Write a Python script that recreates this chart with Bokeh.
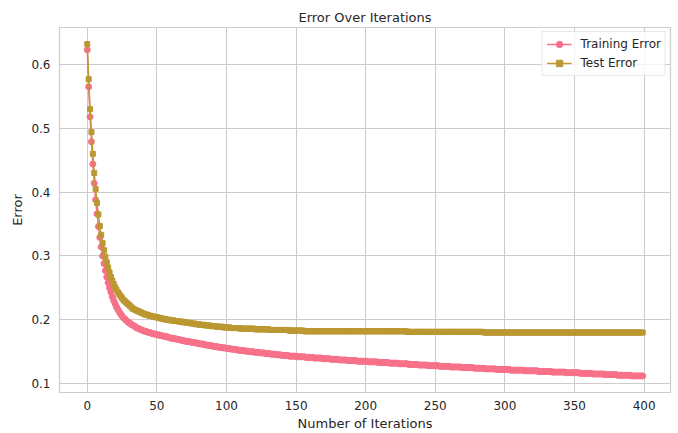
from bokeh.plotting import figure
from bokeh.models import Range1d, FixedTicker, Legend, LegendItem
from bokeh.embed import file_html
from bokeh.resources import INLINE

iterations = list(range(400))

training_error = [
    .623, .565, .518, .479, .444, .414, .388, .366, .346, .329, .314, .300, .288, .277, .267, .258, .250, .243, .236, .230, .225,
    .220, .216, .212, .209, .206, .203, .201, .199, .197, .195,
    .194, .192, .191, .190, .188, .187, .186, .185, .184, .183,
    .182, .182, .181, .180, .180, .179, .178, .178, .177, .177,
    .176, .176, .175, .175, .174, .174, .173, .173, .172, .171,
    .171, .171, .170, .170, .169, .169, .168, .168, .167, .167,
    .166, .166, .166, .165, .165, .164, .164, .164, .163, .163,
    .162, .162, .162, .161, .161, .160, .160, .160, .159, .159,
    .158, .158, .158, .157, .157, .157, .156, .156, .156, .155,
    .155, .155, .154, .154, .154, .153, .153, .153, .152, .152,
    .152, .152, .151, .151, .151, .150, .150, .150, .150, .149,
    .149, .149, .149, .148, .148, .148, .148, .147, .147, .147,
    .147, .146, .146, .146, .146, .145, .145, .145, .145, .144,
    .144, .144, .144, .144, .143, .143, .143, .143, .143, .143,
    .142, .142, .142, .142, .142, .142, .141, .141, .141, .141,
    .141, .141, .140, .140, .140, .140, .140, .140, .139, .139,
    .139, .139, .139, .139, .138, .138, .138, .138, .138, .138,
    .137, .137, .137, .137, .137, .137, .136, .136, .136, .136,
    .136, .136, .136, .135, .135, .135, .135, .135, .135, .135,
    .135, .134, .134, .134, .134, .134, .134, .134, .133, .133,
    .133, .133, .133, .133, .133, .133, .132, .132, .132, .132,
    .132, .132, .132, .131, .131, .131, .131, .131, .131, .131,
    .130, .130, .130, .130, .130, .130, .130, .129, .129, .129,
    .129, .129, .129, .129, .128, .128, .128, .128, .128, .128,
    .128, .128, .127, .127, .127, .127, .127, .127, .127, .127,
    .126, .126, .126, .126, .126, .126, .126, .126, .125, .125,
    .125, .125, .125, .125, .125, .125, .125, .124, .124, .124,
    .124, .124, .124, .124, .124, .123, .123, .123, .123, .123,
    .123, .123, .123, .122, .122, .122, .122, .122, .122, .122,
    .122, .122, .122, .121, .121, .121, .121, .121, .121, .121,
    .121, .121, .121, .120, .120, .120, .120, .120, .120, .120,
    .120, .120, .120, .119, .119, .119, .119, .119, .119, .119,
    .119, .119, .119, .118, .118, .118, .118, .118, .118, .118,
    .118, .118, .118, .117, .117, .117, .117, .117, .117, .117,
    .117, .117, .117, .116, .116, .116, .116, .116, .116, .116,
    .116, .116, .115, .115, .115, .115, .115, .115, .115, .115,
    .115, .114, .114, .114, .114, .114, .114, .114, .114, .114,
    .113, .113, .113, .113, .113, .113, .113, .113, .113, .113,
    .112, .112, .112, .112, .112, .112, .112, .112, .112,
]

test_error = [
    .632, .577, .530, .494, .460, .430, .405, .383, .365, .347, .333, .320, .309, .299, .290, .282, .274, .267, .261, .256, .251,
    .247, .243, .240, .237, .234, .231, .229, .227, .225, .223,
    .221, .219, .217, .216, .215, .214, .213, .212, .211, .210,
    .209, .208, .208, .207, .206, .206, .205, .205, .204, .204,
    .203, .203, .202, .202, .201, .201, .200, .200, .200, .199,
    .199, .199, .198, .198, .198, .197, .197, .197, .196, .196,
    .196, .195, .195, .195, .194, .194, .194, .193, .193, .193,
    .192, .192, .192, .192, .191, .191, .191, .191, .190, .190,
    .190, .190, .189, .189, .189, .189, .189, .188, .188, .188,
    .188, .188, .187, .187, .187, .187, .187, .187, .187, .186,
    .186, .186, .186, .186, .186, .186, .186, .186, .186, .186,
    .185, .185, .185, .185, .185, .185, .185, .185, .185, .185,
    .184, .184, .184, .184, .184, .184, .184, .184, .184, .184,
    .184, .184, .184, .184, .183, .183, .183, .183, .183, .183,
    .183, .183, .183, .183, .183, .182, .182, .182, .182, .182,
    .182, .182, .182, .182, .182, .182, .182, .182, .182, .182,
    .182, .182, .182, .182, .182, .182, .182, .182, .182, .182,
    .182, .182, .182, .182, .182, .182, .182, .182, .182, .182,
    .182, .182, .182, .182, .182, .182, .182, .182, .182, .182,
    .182, .182, .182, .182, .182, .182, .182, .182, .182, .182,
    .182, .182, .182, .182, .182, .182, .182, .182, .182, .182,
    .182, .182, .182, .182, .182, .182, .182, .182, .182, .181,
    .181, .181, .181, .181, .181, .181, .181, .181, .181, .181,
    .181, .181, .181, .181, .181, .181, .181, .181, .181, .181,
    .181, .181, .181, .181, .181, .181, .181, .181, .181, .181,
    .181, .181, .181, .181, .181, .181, .181, .181, .181, .181,
    .181, .181, .181, .181, .181, .181, .181, .181, .181, .181,
    .181, .181, .181, .181, .180, .180, .180, .180, .180, .180,
    .180, .180, .180, .180, .180, .180, .180, .180, .180, .180,
    .180, .180, .180, .180, .180, .180, .180, .180, .180, .180,
    .180, .180, .180, .180, .180, .180, .180, .180, .180, .180,
    .180, .180, .180, .180, .180, .180, .180, .180, .180, .180,
    .180, .180, .180, .180, .180, .180, .180, .180, .180, .180,
    .180, .180, .180, .180, .180, .180, .180, .180, .180, .180,
    .180, .180, .180, .180, .180, .180, .180, .180, .180, .180,
    .180, .180, .180, .180, .180, .180, .180, .180, .180, .180,
    .180, .180, .180, .180, .180, .180, .180, .180, .180, .180,
    .180, .180, .180, .180, .180, .180, .180, .180, .180, .180,
    .180, .180, .180, .180, .180, .180, .180, .180, .180,
]

x_ticks = [0, 50, 100, 150, 200, 250, 300, 350, 400]
y_ticks = [0.1, 0.2, 0.3, 0.4, 0.5, 0.6]

TRAIN_COLOR = "#f77189"
TEST_COLOR = "#bb9832"
TEXT_COLOR = "#262626"
GRID_COLOR = "#cccccc"
FONT = "DejaVu Sans"

p = figure(width=678, height=433, output_backend="svg", toolbar_location=None,
           x_range=Range1d(-19.95, 418.95), y_range=Range1d(0.086, 0.658),
           title="Error Over Iterations",
           min_border_left=59, min_border_right=8, min_border_top=27, min_border_bottom=41)

p.title.align = "center"
p.title.text_font = FONT
p.title.text_font_size = "13px"
p.title.text_font_style = "normal"
p.title.text_color = TEXT_COLOR
p.title.standoff = 6

p.outline_line_color = GRID_COLOR
p.outline_line_width = 1.2
p.background_fill_color = "white"

for ax in (p.xaxis[0], p.yaxis[0]):
    ax.axis_line_color = None
    ax.major_tick_line_color = None
    ax.minor_tick_line_color = None
    ax.major_tick_out = 0
    ax.major_tick_in = 0
    ax.minor_tick_out = 0
    ax.minor_tick_in = 0
    ax.major_label_text_font = FONT
    ax.major_label_text_font_size = "12px"
    ax.major_label_text_color = TEXT_COLOR
    ax.axis_label_text_font = FONT
    ax.axis_label_text_font_size = "13px"
    ax.axis_label_text_font_style = "normal"
    ax.axis_label_text_color = TEXT_COLOR

p.xaxis.ticker = FixedTicker(ticks=x_ticks)
p.yaxis.ticker = FixedTicker(ticks=y_ticks)
p.xaxis.axis_label = "Number of Iterations"
p.yaxis.axis_label = "Error"
p.xaxis.major_label_standoff = 8
p.yaxis.major_label_standoff = 9
p.xaxis.axis_label_standoff = 3
p.yaxis.axis_label_standoff = 3

p.xgrid.grid_line_color = GRID_COLOR
p.ygrid.grid_line_color = GRID_COLOR
p.xgrid.grid_line_width = 1
p.ygrid.grid_line_width = 1

tr_line = p.line(iterations, training_error, line_color=TRAIN_COLOR, line_width=1.5)
tr_pts = p.scatter(iterations, training_error, marker="circle", size=6,
                   fill_color=TRAIN_COLOR, line_color=TRAIN_COLOR)
te_line = p.line(iterations, test_error, line_color=TEST_COLOR, line_width=1.5)
te_pts = p.scatter(iterations, test_error, marker="square", size=5,
                   fill_color=TEST_COLOR, line_color=TEST_COLOR)

legend = Legend(items=[
    LegendItem(label="Training Error", renderers=[tr_line, tr_pts]),
    LegendItem(label="Test Error", renderers=[te_line, te_pts]),
], location="top_right")
legend.label_text_font = FONT
legend.label_text_font_size = "12px"
legend.label_text_color = TEXT_COLOR
legend.border_line_color = "#d0d0d0"
legend.background_fill_alpha = 0.8
legend.glyph_width = 25
legend.glyph_height = 16
legend.spacing = 3
legend.padding = 4
legend.margin = 4
legend.label_standoff = 9
p.add_layout(legend)

open("out.html", "w").write(file_html(p, INLINE))
